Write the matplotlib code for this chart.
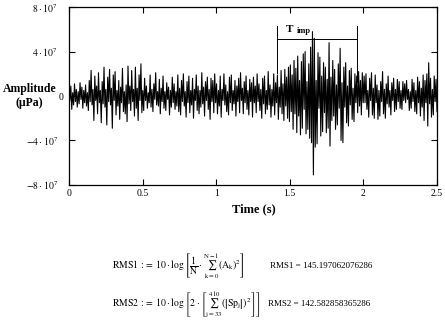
import numpy as np
import matplotlib
matplotlib.use("Agg")
import matplotlib.pyplot as plt
from matplotlib.transforms import ScaledTranslation

plt.rcParams["font.family"] = ["Liberation Serif", "DejaVu Serif"]
plt.rcParams["mathtext.fontset"] = "stix"

# sampled pressure signal, units of 1e7 uPa, 40 samples per 0.25 s
seg_000 = [1.5, -0.4, 0.9, -1.2, 0.3, -0.8, 1.1, -0.5, 0.6, -1.0, 0.4, -0.7, 1.2, -0.3, 0.8, -1.1, 0.5, -0.6, 1.0, -0.9,
           0.3, -1.3, 1.4, -0.5, 2.3, -0.8, 0.6, -2.2, 1.8, -0.4, 0.9, -1.6, 2.1, -0.6, 0.5, -2.4, 1.3, -0.7, 2.6, -1.0]
seg_025 = [0.6, -2.6, 1.7, -0.5, 2.4, -0.8, 0.7, -2.9, 1.9, -0.4, 2.2, -1.7, 0.5, -0.9, 1.4, -2.1, 0.8, -0.6, 2.5, -1.4,
           0.4, -1.6, 1.0, -2.3, 2.7, -0.7, 0.9, -1.3, 2.3, -0.5, 0.6, -1.8, 2.6, -1.1, 0.7, -2.2, 1.9, -0.4, 2.9, -1.5]
seg_050 = [0.5, -1.3, 1.6, -0.4, 0.9, -1.1, 0.3, -0.6, 1.9, -1.0, 0.6, -1.4, 1.1, -0.3, 2.1, -0.8, 0.4, -0.9, 1.5, -1.6,
           0.7, -0.5, 1.8, -1.1, 0.4, -1.3, 1.2, -0.3, 0.8, -1.7, 0.5, -1.0, 1.7, -0.6, 1.1, -1.2, 0.4, -0.9, 1.9, -1.4]
seg_075 = [0.7, -1.7, 1.4, -0.5, 2.0, -0.9, 0.4, -1.9, 1.3, -0.6, 1.8, -1.5, 0.5, -0.8, 1.6, -2.0, 0.6, -0.4, 1.9, -1.3,
           0.9, -1.6, 0.5, -1.0, 2.1, -0.7, 0.8, -1.8, 1.3, -0.4, 1.7, -1.2, 0.6, -2.1, 1.6, -0.5, 1.4, -1.5, 2.0, -0.6]
seg_100 = [1.1, -1.6, 0.5, -0.9, 1.8, -1.9, 0.6, -0.4, 2.0, -0.8, 1.0, -1.4, 0.4, -1.7, 1.7, -0.6, 1.9, -1.3, 0.5, -0.7,
           1.4, -1.8, 0.9, -0.5, 1.6, -1.5, 2.1, -0.4, 0.7, -1.6, 1.3, -0.6, 1.8, -1.2, 0.5, -1.7, 1.5, -0.5, 1.2, -1.9]
seg_125 = [1.7, -0.6, 0.9, -1.5, 2.0, -0.5, 1.1, -1.3, 0.6, -2.0, 1.6, -0.7, 1.8, -1.6, 0.5, -1.2, 2.2, -0.8, 1.0, -1.9,
           0.6, -0.9, 2.0, -1.7, 1.2, -0.6, 1.9, -2.1, 0.8, -1.0, 2.3, -1.6, 1.1, -2.2, 2.4, -0.9, 1.7, -2.0, 2.6, -2.3]
seg_150 = [2.8, -1.4, 1.9, -3.0, 3.2, -1.6, 2.5, -3.3, 3.6, -1.8, 1.4, -3.5, 3.1, -2.9, 3.8, -1.2, 4.0, -3.4, 1.3, -3.0,
           2.9, -3.8, 4.4, -4.2, 5.8, -7.1, 5.2, -4.6, 1.4, -4.3, 3.9, -1.1, 3.5, -3.6, 1.8, -3.2, 3.0, -1.5, 2.6, -3.3]
seg_175 = [1.5, -2.9, 4.8, -4.5, 1.7, -2.2, 3.2, -1.8, 2.4, -3.0, 1.0, -2.6, 2.9, -1.1, 4.3, -4.0, 1.2, -4.2, 2.6, -1.0,
           3.0, -2.4, 0.9, -2.7, 2.3, -0.8, 2.5, -2.1, 0.7, -2.3, 2.0, -0.6, 1.8, -1.5, 2.2, -0.9, 1.4, -1.7, 2.1, -0.6]
seg_200 = [1.8, -0.6, 2.0, -1.2, 0.5, -1.9, 1.6, -0.4, 2.1, -1.7, 0.7, -2.0, 1.9, -0.6, 1.0, -2.1, 0.5, -1.8, 1.3, -0.5,
           2.2, -1.6, 0.6, -2.0, 1.1, -0.7, 1.8, -1.0, 0.5, -1.7, 1.2, -0.4, 1.6, -1.4, 0.6, -1.2, 1.5, -0.5, 1.3, -1.1]
seg_225 = [0.5, -1.2, 1.3, -0.4, 1.1, -0.6, 1.4, -0.3, 0.6, -1.3, 0.4, -1.1, 1.5, -0.5, 1.2, -1.4, 0.5, -1.6, 1.7, -0.6,
           1.3, -1.8, 0.7, -1.0, 1.9, -2.2, 1.4, -0.6, 2.0, -2.7, 3.0, -0.7, 1.6, -1.9, 0.6, -1.7, 1.8, -0.5, 1.5, -1.4]

amplitude = np.array(seg_000 + seg_025 + seg_050 + seg_075 + seg_100 +
                     seg_125 + seg_150 + seg_175 + seg_200 + seg_225) * 1e7
time = np.linspace(0, 2.5, len(amplitude))

# impulse window
t_imp_start = 1.41
t_imp_end = 1.96

y_ticks = [-8e7, -4e7, 0, 4e7, 8e7]
y_labels = [r"$-8\cdot10^{7}$", r"$-4\cdot10^{7}$", "0", r"$4\cdot10^{7}$", r"$8\cdot10^{7}$"]
x_ticks = [0, 0.5, 1, 1.5, 2, 2.5]
x_labels = ["0", "0.5", "1", "1.5", "2", "2.5"]

rms1 = "145.197062076286"
rms2 = "142.582858365286"

fig = plt.figure(figsize=(4.45, 3.25), dpi=100)
ax = fig.add_axes([0.155, 0.431, 0.827, 0.547])

ax.plot(time, amplitude, color="black", linewidth=0.8)

# T imp bracket
ax.plot([t_imp_start, t_imp_start], [6.3e7, 2.1e7], color="black", linewidth=0.7)
ax.plot([t_imp_end, t_imp_end], [6.3e7, 1.25e7], color="black", linewidth=0.7)
ax.plot([t_imp_start, t_imp_end], [5.15e7, 5.15e7], color="black", linewidth=0.7)
ax.text(1.47, 5.6e7, "T", fontsize=8, fontweight="bold", ha="left", va="bottom")
ax.text(1.545, 5.45e7, "imp", fontsize=6, fontweight="bold", ha="left", va="bottom")

ax.set_xlim(0, 2.5)
ax.set_ylim(-8e7, 8e7)
ax.set_xticks(x_ticks)
ax.set_xticklabels(x_labels)
ax.set_yticks(y_ticks)
ax.set_yticklabels(y_labels)
ax.tick_params(direction="in", length=4, width=0.8, labelsize=7, top=True, right=True)
ax.tick_params(axis="y", pad=8)
ax.tick_params(axis="x", pad=3)
for s in ax.spines.values():
    s.set_linewidth(0.9)
# the zero label sits closer to the axis
for lab in ax.get_yticklabels():
    if lab.get_text() == "0":
        lab.set_transform(lab.get_transform() + ScaledTranslation(6 / 100, 0, fig.dpi_scale_trans))

fig.text(0.066, 0.705, "Amplitude\n(\u03bcPa)", fontsize=8.5, fontweight="bold",
         ha="center", va="center", linespacing=1.2)
fig.text(0.571, 0.357, "Time (s)", fontsize=9, fontweight="bold", ha="center", va="center")

f1 = (r"$\mathrm{RMS1}\;:\!=\;10\cdot\log\left[\dfrac{1}{\mathrm{N}}\cdot\sum_{\mathrm{k}=0}^{\mathrm{N}-1}"
      r"\left(\mathrm{A_k}\right)^2\right]$")
f2 = (r"$\mathrm{RMS2}\;:\!=\;10\cdot\log\left[2\cdot\left[\sum_{\mathrm{j}=33}^{410}"
      r"\left(\left|\mathrm{Sp_j}\right|\right)^2\right]\right]$")
fig.text(0.252, 0.175, f1, fontsize=7, ha="left", va="baseline")
fig.text(0.607, 0.175, "RMS1 = " + rms1, fontsize=6.5, ha="left", va="baseline")
fig.text(0.252, 0.058, f2, fontsize=7, ha="left", va="baseline")
fig.text(0.602, 0.058, "RMS2 = " + rms2, fontsize=6.5, ha="left", va="baseline")

fig.savefig("out.png", dpi=100)
